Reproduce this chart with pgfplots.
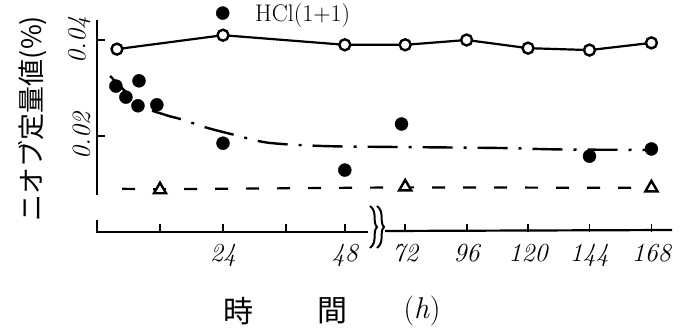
\documentclass[border=0pt]{standalone}
\usepackage{pgfplots}
\pgfplotsset{compat=1.18}
\usepackage{fontspec}
\newfontfamily\cjk{Noto Sans CJK JP}
\begin{document}
\begin{tikzpicture}
% x positions: hours up to 48 are plotted as is; after the axis break
% 72,96,...,168 h are plotted at 58.7, 70.4, 82.1, 93.8, 105.6
\begin{axis}[
  at={(97pt,98pt)}, anchor=south west,
  scale only axis, width=574.9pt, height=213.6pt,
  xmin=0, xmax=109.5, ymin=0, ymax=0.0445,
  axis line style={draw=none},
  clip=false,
  tick align=inside,
  tick pos=left,
  xtick={12,24,36,47.2,58.7,70.4,82.1,93.8,105.6},
  xticklabels={,24,,48,72,96,120,144,168},
  ytick={0.02,0.04}, yticklabels={0.02,0.04},
  scaled y ticks=false,
  major tick length=8pt,
  tick style={line width=1.8pt, black},
  xticklabel style={font=\fontsize{26}{26}\selectfont\itshape, yshift=-9pt},
  yticklabel style={font=\fontsize{26}{26}\selectfont\itshape, rotate=90, anchor=south, yshift=3pt},
  legend style={draw=none, fill=none, at={(0.207,1.025)}, anchor=west,
    font=\fontsize{24}{24}\selectfont, inner sep=0pt},
]
% open circles, solid line
\addplot[line width=2.2pt, mark=*, mark size=5.5pt,
  mark options={fill=white, draw=black, line width=2.4pt}, forget plot]
  coordinates {(3.8,0.0381) (24,0.0410) (47.2,0.0390) (58.7,0.0390)
               (70.4,0.0400) (82.1,0.0383) (93.8,0.0379) (105.6,0.0394)};
% fitted dash-dot curve
\addplot[line width=2.4pt, smooth, dash pattern=on 30pt off 11pt on 3pt off 11pt, forget plot]
  coordinates {(2.5,0.0325) (8.2,0.0265) (13,0.0244) (16,0.0235) (21,0.0217)
               (26.3,0.0202) (32.6,0.0186) (43.4,0.0179) (58,0.0177)
               (76.8,0.0175) (88.2,0.0172) (105.6,0.0171)};
% dashed line with triangles
\addplot[line width=2.2pt, dash pattern=on 13pt off 18pt, forget plot]
  coordinates {(4.8,0.0090) (12,0.0089) (58.7,0.0093) (105.6,0.0092)};
\addplot[only marks, mark=triangle*, mark size=7pt,
  mark options={fill=white, draw=black, line width=2.4pt}, forget plot]
  coordinates {(12,0.0088) (58.7,0.0094) (105.6,0.0092)};
% filled circles HCl(1+1)
\addplot[only marks, mark=*, mark size=6.5pt, black]
  coordinates {(3.6,0.0304) (5.5,0.0281) (8,0.0315) (7.8,0.0263) (11.4,0.0265)
               (24,0.0185) (47.2,0.0129) (58,0.0225) (93.8,0.0158) (105.6,0.0173)};
\addlegendentry{\hspace{24pt}HCl(1+1)}
\end{axis}
% axis lines (hand-drawn style, with breaks)
\draw[line width=2.2pt] (97pt,310pt) -- (97pt,135pt);
\draw[line width=2.2pt] (97pt,110pt) -- (97pt,98pt) -- (368pt,98pt);
\draw[line width=2.2pt] (385pt,99pt) -- (672pt,100pt);
\draw[line width=2pt] (370pt,124pt) .. controls (378pt,118pt) and (372pt,108pt) .. (377pt,103pt)
  .. controls (372pt,98pt) and (378pt,88pt) .. (370pt,82pt);
\draw[line width=2pt] (377pt,124pt) .. controls (385pt,118pt) and (379pt,108pt) .. (384pt,103pt)
  .. controls (379pt,98pt) and (385pt,88pt) .. (377pt,82pt);
% labels
\node[rotate=90, font=\cjk\fontsize{27}{27}\selectfont] at (33pt,211.5pt) {ニオブ定量値(\%)};
\node[font=\cjk\fontsize{30}{30}\selectfont] at (238pt,19pt) {時};
\node[font=\cjk\fontsize{30}{30}\selectfont] at (332pt,19pt) {間};
\node[font=\fontsize{30}{30}\selectfont] at (422pt,19pt) {(\textit{h})};
\pgfresetboundingbox
\path[use as bounding box] (0pt,0pt) rectangle (691pt,330pt);
\end{tikzpicture}
\end{document}
